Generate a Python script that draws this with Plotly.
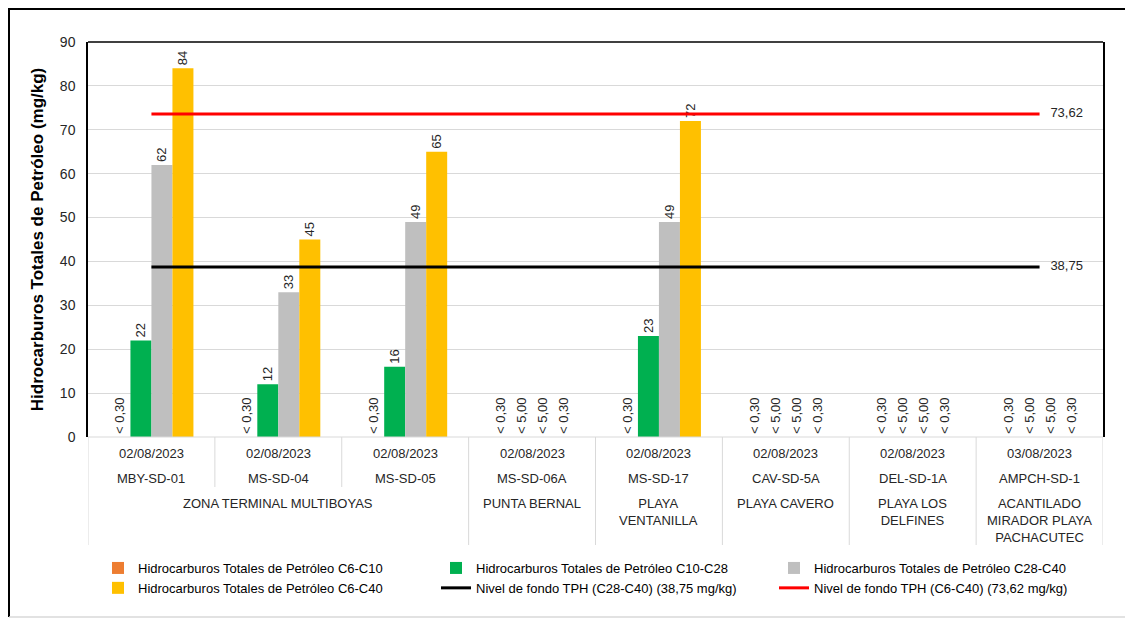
import plotly.graph_objects as go

# ---------------- data ----------------
stations = ["MBY-SD-01", "MS-SD-04", "MS-SD-05", "MS-SD-06A", "MS-SD-17",
            "CAV-SD-5A", "DEL-SD-1A", "AMPCH-SD-1"]
dates = ["02/08/2023", "02/08/2023", "02/08/2023", "02/08/2023", "02/08/2023",
         "02/08/2023", "02/08/2023", "03/08/2023"]
zone_names = ["ZONA TERMINAL MULTIBOYAS", "PUNTA BERNAL", "PLAYA<br>VENTANILLA",
              "PLAYA CAVERO", "PLAYA LOS<br>DELFINES", "ACANTILADO<br>MIRADOR PLAYA<br>PACHACUTEC"]
zone_first = [0, 3, 4, 5, 6, 7]
zone_last = [2, 3, 4, 5, 6, 7]

c6_c10 = [0, 0, 0, 0, 0, 0, 0, 0]
c6_c10_lbl = ["< 0,30"] * 8
c10_c28 = [22, 12, 16, 0, 23, 0, 0, 0]
c10_c28_lbl = ["22", "12", "16", "< 5,00", "23", "< 5,00", "< 5,00", "< 5,00"]
c28_c40 = [62, 33, 49, 0, 49, 0, 0, 0]
c28_c40_lbl = ["62", "33", "49", "< 5,00", "49", "< 5,00", "< 5,00", "< 5,00"]
c6_c40 = [84, 45, 65, 0, 72, 0, 0, 0]
c6_c40_lbl = ["84", "45", "65", "< 0,30", "72", "< 0,30", "< 0,30", "< 0,30"]

fondo_c28_c40 = 38.75
fondo_c28_c40_lbl = "38,75"
fondo_c6_c40 = 73.62
fondo_c6_c40_lbl = "73,62"

y_ticks = [0, 10, 20, 30, 40, 50, 60, 70, 80, 90]

# ---------------- layout helpers ----------------
OFF = 8  # page body margin
W, H = 1133 - OFF, 619 - OFF
L, R, T, B = 80, 30, 34, 182
PW, PH = W - L - R, H - T - B
FONT = "Liberation Sans, Arial, sans-serif"
TXT = "#262626"
NB = "\u00a0\u00a0\u00a0"


def pxp(x):
    """screen x pixel -> paper fraction"""
    return (x - OFF - L) / PW


def pyp(y):
    """screen y pixel -> paper fraction"""
    return (H - B - (y - OFF)) / PH


idx = list(range(len(stations)))
fig = go.Figure()

series = [
    ("Hidrocarburos Totales de Petróleo C6-C10", c6_c10, c6_c10_lbl, "#ED7D31"),
    ("Hidrocarburos Totales de Petróleo C10-C28", c10_c28, c10_c28_lbl, "#00B050"),
    ("Hidrocarburos Totales de Petróleo C28-C40", c28_c40, c28_c40_lbl, "#BFBFBF"),
    ("Hidrocarburos Totales de Petróleo C6-C40", c6_c40, c6_c40_lbl, "#FFC000"),
]
for name, vals, lbls, col in series:
    fig.add_trace(go.Bar(
        x=idx, y=vals, name=name, marker=dict(color=col, line=dict(width=0)),
        text=lbls, textposition="outside", textangle=-90, cliponaxis=False,
        constraintext="none", textfont=dict(family=FONT, size=13, color=TXT),
        hoverinfo="skip",
    ))

n = len(idx)
fig.add_trace(go.Scatter(
    x=idx, y=[fondo_c28_c40] * n, mode="lines+text",
    name="Nivel de fondo TPH (C28-C40) (38,75 mg/kg)",
    line=dict(color="#000000", width=3),
    text=[""] * (n - 1) + [NB + fondo_c28_c40_lbl], textposition="middle right",
    textfont=dict(family=FONT, size=13, color=TXT), cliponaxis=False,
))
fig.add_trace(go.Scatter(
    x=idx, y=[fondo_c6_c40] * n, mode="lines+text",
    name="Nivel de fondo TPH (C6-C40) (73,62 mg/kg)",
    line=dict(color="#FF0000", width=3),
    text=[""] * (n - 1) + [NB + fondo_c6_c40_lbl], textposition="middle right",
    textfont=dict(family=FONT, size=13, color=TXT), cliponaxis=False,
))

annotations = []
for i in idx:
    annotations.append(dict(x=i, xref="x", y=pyp(453), yref="paper", text=dates[i],
                            showarrow=False, font=dict(family=FONT, size=13, color=TXT),
                            yanchor="middle"))
    annotations.append(dict(x=i, xref="x", y=pyp(478), yref="paper", text=stations[i],
                            showarrow=False, font=dict(family=FONT, size=13, color=TXT),
                            yanchor="middle"))
for zn, a, b in zip(zone_names, zone_first, zone_last):
    annotations.append(dict(x=(a + b) / 2, xref="x", y=pyp(494), yref="paper", text=zn,
                            showarrow=False, font=dict(family=FONT, size=13, color=TXT),
                            yanchor="top"))

shapes = []
zone_bounds = set([f - 0.5 for f in zone_first] + [zone_last[-1] + 0.5])
for k in range(n + 1):
    xb = k - 0.5
    bottom = 545 if xb in zone_bounds else 487
    shapes.append(dict(type="line", xref="x", yref="paper", x0=xb, x1=xb,
                       y0=0, y1=pyp(bottom), line=dict(color="#D9D9D9", width=1)))
# bottom axis line
shapes.append(dict(type="line", xref="paper", yref="paper", x0=0, x1=1, y0=0, y1=0,
                   line=dict(color="#D9D9D9", width=1)))
# plot frame top
shapes.append(dict(type="line", xref="paper", yref="paper", x0=0, x1=1, y0=1, y1=1,
                   line=dict(color="#000000", width=1.5)))
# outer chart frame
shapes.append(dict(type="line", xref="paper", yref="paper", x0=pxp(8), x1=pxp(1140),
                   y0=pyp(9), y1=pyp(9), line=dict(color="#000000", width=2)))
shapes.append(dict(type="line", xref="paper", yref="paper", x0=pxp(9), x1=pxp(9),
                   y0=pyp(8), y1=pyp(617), line=dict(color="#000000", width=2)))
shapes.append(dict(type="line", xref="paper", yref="paper", x0=pxp(9), x1=pxp(1140),
                   y0=pyp(617), y1=pyp(617), line=dict(color="#D9D9D9", width=1.5)))

fig.update_layout(
    width=W, height=H,
    margin=dict(l=L, r=R, t=T, b=B, autoexpand=False),
    paper_bgcolor="white", plot_bgcolor="white",
    barmode="group", bargap=0.338, bargroupgap=0,
    font=dict(family=FONT, size=13, color=TXT),
    showlegend=True,
    legend=dict(orientation="h", x=pxp(98), y=pyp(553), xanchor="left", yanchor="top",
                entrywidth=293, entrywidthmode="pixels", bgcolor="rgba(0,0,0,0)",
                font=dict(family=FONT, size=13, color="#000000"),
                traceorder="normal", itemclick=False, tracegroupgap=0),
    annotations=annotations,
    shapes=shapes,
    hovermode=False,
)
fig.update_xaxes(range=[-0.5, n - 0.5], showticklabels=False, showgrid=False,
                 zeroline=False, showline=False, ticks="", fixedrange=True)
fig.update_yaxes(range=[0, 90], tickvals=y_ticks, ticktext=[str(t) for t in y_ticks],
                 showgrid=True, gridcolor="#D9D9D9", gridwidth=1, zeroline=False,
                 showline=True, linecolor="#000000", linewidth=1.5, mirror=True,
                 ticks="", ticklabelstandoff=8, automargin=False,
                 tickfont=dict(family=FONT, size=14, color=TXT),
                 title=dict(text="<b>Hidrocarburos Totales de Petróleo (mg/kg)</b>",
                            font=dict(family=FONT, size=17, color="#000000"), standoff=12))

fig.write_html("out.html")
